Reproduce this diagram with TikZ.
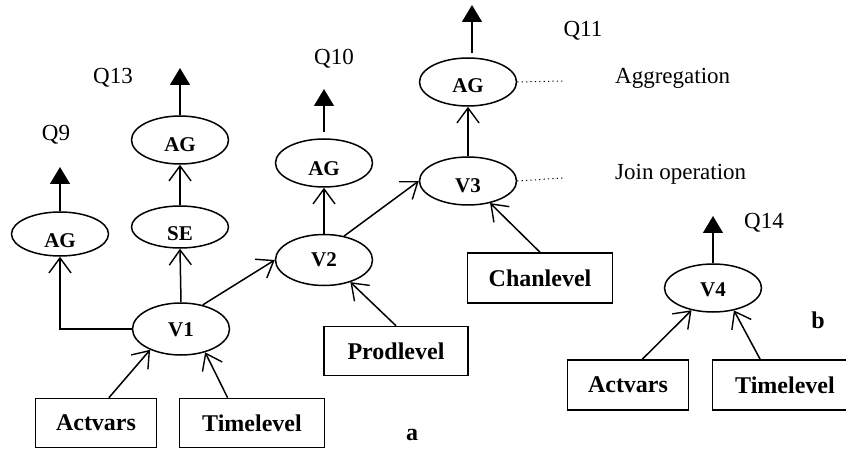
\documentclass[tikz,border=0pt]{standalone}
\usepackage{fontspec}
\setmainfont{Liberation Serif}
\usetikzlibrary{shapes.geometric,arrows.meta,calc}
\begin{document}
\begin{tikzpicture}[x=1pt,y=-1pt,
  op/.style={ellipse, draw, line width=1.5pt, minimum width=97pt, minimum height=48pt, inner sep=0pt, text depth=0pt, font=\fontsize{21}{21}\selectfont\bfseries},
  src/.style={rectangle, draw, line width=1.5pt, minimum height=49pt, inner sep=0pt, font=\fontsize{24}{24}\selectfont\bfseries},
  lbl/.style={inner sep=0pt, font=\fontsize{23}{23}\selectfont},
  tag/.style={inner sep=0pt, font=\fontsize{24}{24}\selectfont\bfseries},
  flow/.style={line width=1.5pt, -{Straight Barb[length=15pt,width=22pt,line width=1.4pt]}},
  outq/.style={line width=1.5pt, -{Triangle[length=17pt,width=20pt]}},
  dots/.style={line width=1pt, dash pattern=on 1.2pt off 3.2pt}
]
\useasboundingbox (0,0) rectangle (846,449);

% operation nodes
\node[op, minimum height=44pt, text height=27.9pt] (ag9) at (60,234) {AG};
\node[op, minimum height=42pt, text height=27.9pt] (se) at (180,227) {SE};
\node[op, text height=22.9pt] (ag13) at (180,140) {AG};
\node[op, text height=25.9pt] (ag10) at (324,163) {AG};
\node[op, minimum height=51pt, text height=13.9pt] (v2) at (324,260) {V2};
\node[op, minimum height=52pt, text height=15.9pt] (v1) at (181,329) {V1};
\node[op, text height=21.9pt] (ag11) at (468,82) {AG};
\node[op, text height=23.9pt] (v3) at (468,181) {V3};
\node[op, text height=17.9pt] (v4) at (713,288) {V4};

% source boxes
\node[src, minimum width=121pt] (acta) at (96,423) {Actvars};
\node[src, minimum width=145pt] (tla) at (252,423) {Timelevel};
\node[src, minimum width=144pt] (prod) at (396,351) {Prodlevel};
\node[src, minimum width=145pt, minimum height=50pt] (chan) at (540,278) {Chanlevel};
\node[src, minimum width=121pt, minimum height=50pt] (actb) at (628,385) {Actvars};
\node[src, minimum width=145pt, minimum height=50pt] (tlb) at (785,385) {Timelevel};

% output tips
\coordinate (q9t) at (60,167);
\coordinate (q13t) at (180,68);
\coordinate (q10t) at (324,89);
\coordinate (q11t) at (472,5);
\coordinate (q14t) at (713,216);
\coordinate (d1) at (563,81);
\coordinate (d2) at (563,178);

% output arrows
\draw[outq] (ag9.north) -- (q9t);
\draw[outq] (ag13.north) -- (q13t);
\draw[outq] ($(ag10.north)+(0,-6)$) -- (q10t);
\draw[outq] ($(ag11.north)+(4,-4)$) -- (q11t);
\draw[outq] (v4.north) -- (q14t);

% flows
\draw[flow] (se.north) -- (ag13.south);
\draw[flow] (v1.north) -- (se.south);
\draw[flow] (v1.west) -| (ag9.south);
\draw[flow] (v1.48) -- (v2.west);
\draw[flow] (v2.north) -- (ag10.south);
\draw[flow] (v2.50) -- (v3.west);
\draw[flow] (v3.north) -- (ag11.south);
\draw[flow] (acta.63) -- (v1.214);
\draw[flow] (tla.134) -- (v1.316);
\draw[flow] (prod.north) -- (v2.320);
\draw[flow] (chan.north) -- (v3.315);
\draw[flow] (actb.61) -- (v4.226);
\draw[flow] (tlb.134) -- (v4.313);

% dotted leaders
\draw[dots] (ag11.east) -- (d1);
\draw[dots] (v3.east) -- (d2);

% labels
\node[lbl] (lq9) at (56,135) {Q9};
\node[lbl] (lq13) at (113,78) {Q13};
\node[lbl] (lq10) at (334,59) {Q10};
\node[lbl] (lq11) at (583,31) {Q11};
\node[lbl, anchor=west] (lagg) at (615,78) {Aggregation};
\node[lbl, anchor=west] (ljoin) at (615,174) {Join operation};
\node[lbl] (lq14) at (764,223) {Q14};
\node[tag] (la) at (412,435) {a};
\node[tag] (lb) at (818,320) {b};
\end{tikzpicture}
\end{document}
